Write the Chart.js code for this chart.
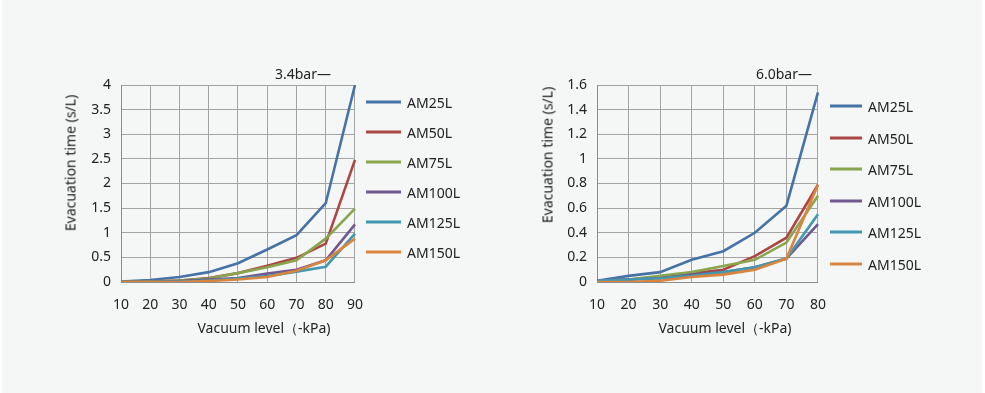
<!DOCTYPE html>
<html lang="en">
<head>
<meta charset="UTF-8">
<title>Evacuation time</title>
<script src="https://cdn.jsdelivr.net/npm/chart.js"></script>
<style>
    body { margin: 0; background: #fff; font-family: "Noto Sans", sans-serif; }
    .panel { position: absolute; left: 2px; top: 0; width: 980px; height: 393px; background: #f5f6f6; }
    .box { position: absolute; }
    .txt { position: absolute; font-size: 14px; color: #222; white-space: nowrap; }
    .ytitle { transform: translate(-50%, -50%) rotate(-90deg); }
    .xtitle { transform: translate(-50%, -50%); }
    .legend-item { position: absolute; font-size: 14px; color: #222; display: flex; align-items: center; transform: translateY(-50%); }
    .legend-item span.line { display: inline-block; height: 3px; margin-right: 6px; }
</style>
</head>
<body>
<div class="panel"></div>
<div class="box" style="left:30px; top:60px; width:348px; height:285px;"><canvas id="chartA"></canvas></div>
<div class="box" style="left:500px; top:60px; width:341px; height:285px;"><canvas id="chartB"></canvas></div>

<script>
// series names and colours (same for both charts)
const seriesNames = ['AM25L', 'AM50L', 'AM75L', 'AM100L', 'AM125L', 'AM150L'];
const seriesColors = ['#4572A7', '#AA4643', '#89A54E', '#71588F', '#4198AF', '#DB843D'];

// 3.4bar chart
const vacuumA = ['10', '20', '30', '40', '50', '60', '70', '80', '90'];
const am25A  = [0.01, 0.04, 0.10, 0.20, 0.38, 0.66, 0.95, 1.60, 4.00];
const am50A  = [0.00, 0.01, 0.03, 0.08, 0.18, 0.33, 0.49, 0.78, 2.48];
const am75A  = [0.00, 0.01, 0.03, 0.07, 0.18, 0.30, 0.44, 0.88, 1.49];
const am100A = [0.00, 0.00, 0.02, 0.05, 0.08, 0.17, 0.25, 0.44, 1.17];
const am125A = [0.00, 0.00, 0.01, 0.03, 0.07, 0.12, 0.21, 0.31, 0.98];
const am150A = [0.00, 0.00, 0.00, 0.02, 0.05, 0.10, 0.23, 0.44, 0.88];
const yTicksA = ['0', '0.5', '1', '1.5', '2', '2.5', '3', '3.5', '4'];

// 6.0bar chart
const vacuumB = ['10', '20', '30', '40', '50', '60', '70', '80'];
const am25B  = [0.01, 0.05, 0.08, 0.18, 0.25, 0.40, 0.62, 1.54];
const am50B  = [0.01, 0.02, 0.04, 0.07, 0.10, 0.21, 0.36, 0.79];
const am75B  = [0.01, 0.02, 0.05, 0.08, 0.13, 0.18, 0.32, 0.70];
const am100B = [0.01, 0.02, 0.03, 0.06, 0.08, 0.12, 0.19, 0.47];
const am125B = [0.01, 0.02, 0.03, 0.05, 0.08, 0.12, 0.19, 0.55];
const am150B = [0.00, 0.00, 0.01, 0.04, 0.06, 0.10, 0.19, 0.79];
const yTicksB = ['0', '0.2', '0.4', '0.6', '0.8', '1', '1.2', '1.4', '1.6'];

const xTitle = 'Vacuum level（-kPa)';
const yTitle = 'Evacuation time (s/L)';

Chart.defaults.font.family = '"Noto Sans", sans-serif';
Chart.defaults.font.size = 14;
Chart.defaults.color = '#222';

function makeChart(id, labels, values, yMax, yStep, yTicks, yWidth) {
    const datasets = values.map((v, i) => ({
        label: seriesNames[i],
        data: v,
        borderColor: seriesColors[i],
        backgroundColor: seriesColors[i],
        borderWidth: 2.6,
        pointRadius: 0,
        tension: 0,
        order: values.length - i   // later series drawn on top
    }));
    return new Chart(document.getElementById(id), {
        type: 'line',
        data: { labels: labels, datasets: datasets },
        options: {
            responsive: true,
            maintainAspectRatio: false,
            animation: false,
            layout: { padding: { top: 25, right: 0, bottom: 0, left: 0 } },
            plugins: { legend: { display: false }, tooltip: { enabled: false } },
            scales: {
                x: {
                    offset: false,
                    grid: { color: '#a3a3a3', drawTicks: false, offset: false },
                    border: { color: '#8c8c8c' },
                    ticks: { padding: 15, maxRotation: 0 },
                    afterFit: s => { s.height = 63; }
                },
                y: {
                    min: 0, max: yMax,
                    grid: { color: '#a3a3a3', drawTicks: false },
                    border: { color: '#8c8c8c' },
                    ticks: { stepSize: yStep, padding: 10, callback: (v, i) => yTicks[i] },
                    afterFit: s => { s.width = yWidth; }
                }
            }
        }
    });
}

makeChart('chartA', vacuumA, [am25A, am50A, am75A, am100A, am125A, am150A], 4, 0.5, yTicksA, 91);
makeChart('chartB', vacuumB, [am25B, am50B, am75B, am100B, am125B, am150B], 1.6, 0.2, yTicksB, 97);

// axis titles, chart titles and legends as page text
function addText(cls, text, x, y) {
    const d = document.createElement('div');
    d.className = 'txt ' + cls;
    d.textContent = text;
    d.style.left = x + 'px';
    d.style.top = y + 'px';
    document.body.appendChild(d);
}
addText('xtitle', xTitle, 264, 328);
addText('ytitle', yTitle, 70, 163);
addText('xtitle', xTitle, 725, 328);
addText('ytitle', yTitle, 547, 155);
addText('xtitle', '3.4bar—', 303, 73);
addText('xtitle', '6.0bar—', 784, 73);

function addLegend(x, y0, gap, lineW) {
    seriesNames.forEach((name, i) => {
        const d = document.createElement('div');
        d.className = 'legend-item';
        d.style.left = x + 'px';
        d.style.top = (y0 + i * gap) + 'px';
        d.innerHTML = '<span class="line" style="width:' + lineW + 'px;background:' + seriesColors[i] + '"></span>' + name;
        document.body.appendChild(d);
    });
}
addLegend(366, 102, 30, 35);
addLegend(830, 106, 31.6, 32);
</script>
</body>
</html>
